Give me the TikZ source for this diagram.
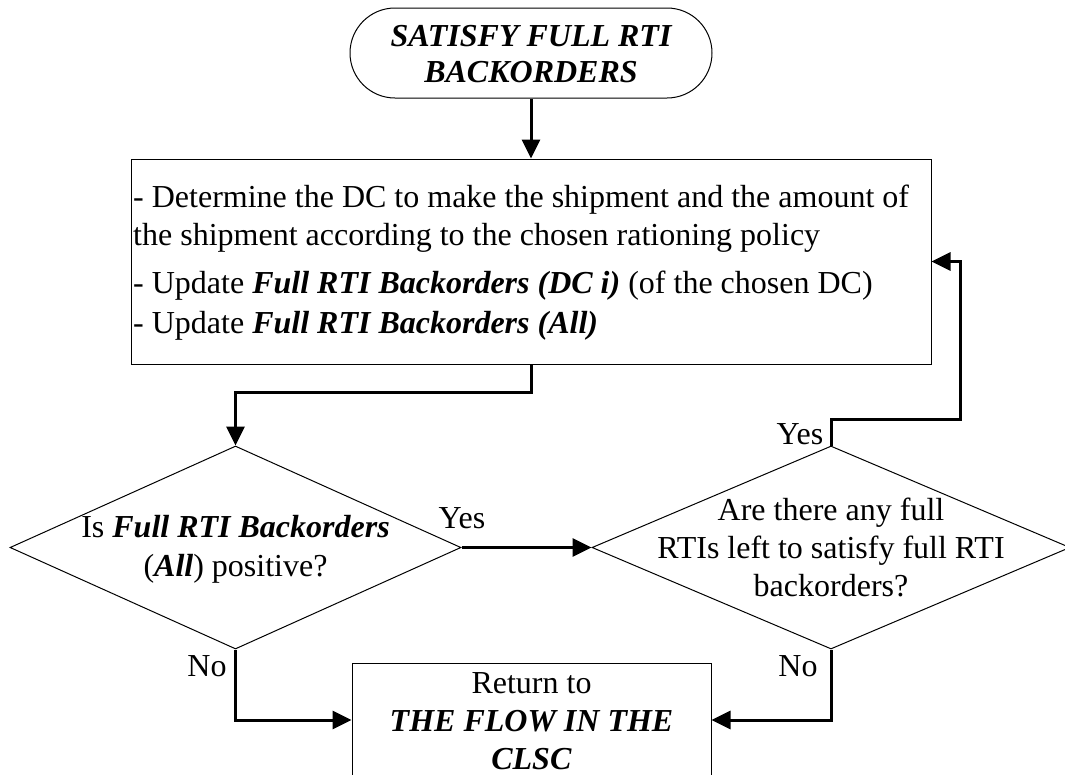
\documentclass[tikz,border=0pt]{standalone}
\usepackage{fontspec}
\setmainfont{Liberation Serif}
\usetikzlibrary{shapes.geometric,arrows.meta}
\begin{document}
\begin{tikzpicture}[x=1pt,y=-1pt,
  shapebox/.style={draw,line width=1pt,inner sep=0pt},
  flow/.style={line width=3pt,-{Triangle[length=19pt,width=18pt]}},
  txt/.style={font=\fontsize{32}{38}\selectfont,inner sep=0pt},
  lab/.style={txt,anchor=base},
  linel/.style={txt,anchor=base west},
  bi/.style={font=\fontsize{32}{38}\selectfont\bfseries\itshape}
]
\useasboundingbox (0,0) rectangle (1065,774);
\clip (0,0) rectangle (1065,774);

% shapes
\node[shapebox,rounded corners=45pt,minimum width=362pt,minimum height=90pt] (start) at (531,53) {};
\node[shapebox,minimum width=800pt,minimum height=205pt] (box) at (531,261.5) {};
\node[shapebox,diamond,minimum width=451pt,minimum height=203pt] (d1) at (235.5,547.5) {};
\node[shapebox,diamond,minimum width=478pt,minimum height=203pt] (d2) at (831,547.5) {};
\node[shapebox,minimum width=359pt,minimum height=114pt] (ret) at (531.5,720) {};

% texts
\node[lab,bi,inner sep=0pt] (t1) at (531,46) {SATISFY FULL RTI};
\node[lab,bi,inner sep=0pt] (t2) at (531,82) {BACKORDERS};

\node[linel] (b1) at (133,207) {- Determine the DC to make the shipment and the amount of};
\node[linel] (b2) at (133,245) {the shipment according to the chosen rationing policy};
\node[linel] (b3) at (133,293) {- Update \textbf{\textit{Full RTI Backorders (DC i)}} (of the chosen DC)};
\node[linel] (b4) at (133,333) {- Update \textbf{\textit{Full RTI Backorders (All)}}};

\node[lab] (q1a) at (235.5,537) {Is \textbf{\textit{Full RTI Backorders}}};
\node[lab] (q1b) at (235.5,576) {(\textbf{\textit{All}}) positive?};

\node[lab] (q2a) at (831,520) {Are there any full};
\node[lab] (q2b) at (831,558) {RTIs left to satisfy full RTI};
\node[lab] (q2c) at (831,596) {backorders?};

\node[lab] (r1) at (531.5,693) {Return to};
\node[lab] (r2) at (531.5,731) {\textbf{\textit{THE FLOW IN THE}}};
\node[lab] (r3) at (531.5,769) {\textbf{\textit{CLSC}}};

\node[lab] (yes1) at (462,528) {Yes};
\node[lab] (yes2) at (800,444) {Yes};
\node[lab] (no1) at (207,676) {No};
\node[lab] (no2) at (798,676) {No};

% connectors
\coordinate (bend) at (960,419);
\draw[flow] (start.south) -- (box.north);
\draw[flow] (box.south) -- ++(0,28) -| (d1.north);
\draw[flow] (d1.east) -- (d2.west);
\draw[flow] (d2.north) |- (bend) |- (box.east);
\draw[flow] (d1.south) |- (ret.west);
\draw[flow] (d2.south) |- (ret.east);
\end{tikzpicture}
\end{document}
